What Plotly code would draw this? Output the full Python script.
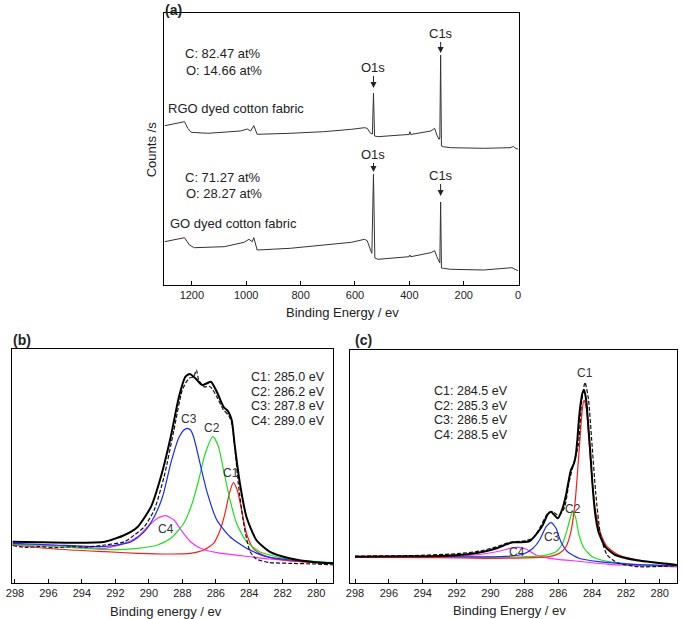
import plotly.graph_objects as go

W, H = 685, 619

# ---------------- panel (a): survey spectra ----------------
a_ticks = [0, 200, 400, 600, 800, 1000, 1200]
a_rgo_x = [1300, 1240, 1227, 1215, 1203, 1142, 1021, 996, 984, 972, 960, 838, 716, 613, 565, 555, 543, 536, 532, 528,
           516, 431, 401, 398, 395, 321, 307, 299, 291, 288, 285, 282, 275, 248, 127, 30, 17, 8, 0]
a_rgo_y = [159.3, 162.7, 163.3, 156.7, 152.7, 151.7, 154.0, 156.0, 154.0, 159.3, 150.7, 151.7, 153.3, 155.7, 157.3, 156.7, 151.7, 151.0, 191.7, 149.0,
           148.3, 150.0, 150.5, 153.3, 150.5, 154.0, 156.7, 150.0, 145.7, 147.0, 230.0, 139.0, 138.3, 137.3, 136.7, 137.3, 138.5, 136.5, 136.0]
a_go_x = [1300, 1240, 1227, 1209, 1191, 1081, 1008, 990, 978, 972, 960, 838, 716, 613, 565, 555, 543, 538, 532, 527,
          516, 431, 401, 398, 395, 321, 307, 299, 291, 288, 285, 282, 275, 248, 127, 30, 23, 11, 0]
a_go_y = [43.3, 46.7, 47.3, 40.0, 37.3, 38.3, 42.7, 45.7, 43.3, 47.3, 35.0, 36.7, 40.0, 42.7, 45.7, 44.3, 35.0, 31.7, 111.0, 27.0,
          25.7, 27.7, 28.3, 30.0, 28.3, 32.3, 34.3, 28.3, 23.3, 22.0, 83.0, 17.0, 16.7, 15.7, 15.0, 16.5, 17.3, 15.7, 14.3]

# ---------------- panel (b): GO C1s ----------------
be_ticks = [298, 296, 294, 292, 290, 288, 286, 284, 282, 280]
b_env_x = [298.14, 296.56, 294.60, 292.63, 291.45, 290.66, 289.87, 289.28, 288.69, 288.20, 287.81, 287.55, 287.22, 286.82,
           286.53, 286.29, 285.94, 285.54, 285.25, 285.05, 284.86, 284.56, 284.17, 283.58, 282.79, 281.61, 280.04, 278.95]
b_env_y = [41.3, 40.7, 40.2, 41.3, 48.0, 56.3, 76.3, 106.3, 146.3, 186.3, 206.3, 209.0, 204.7, 198.0,
           199.7, 201.3, 191.3, 176.3, 171.3, 163.0, 136.3, 99.7, 66.3, 43.0, 31.3, 24.7, 20.7, 19.7]
b_raw_x = [298.14, 297.36, 296.56, 295.60, 294.60, 293.60, 292.63, 291.45, 290.86, 290.27, 289.68, 289.09, 288.50, 288.00,
           287.61, 287.32, 287.16, 287.02, 286.72, 286.33, 285.94, 285.54, 285.25, 285.05, 284.86, 284.66, 284.36, 284.17,
           283.97, 283.58, 282.79, 281.61, 280.04, 278.95]
b_raw_y = [37.5, 35.5, 36.5, 35.3, 36.3, 36.0, 38.0, 41.3, 48.0, 56.3, 73.0, 106.3, 153.0, 193.0,
           204.7, 206.3, 213.0, 203.0, 196.3, 196.3, 186.3, 173.0, 168.0, 160.0, 135.0, 100.0, 62.0, 45.0,
           32.0, 24.0, 20.5, 19.7, 19.0, 18.0]
b_c1_x = [298.14, 295.60, 292.63, 290.66, 288.69, 287.51, 286.72, 286.13, 285.74, 285.45, 285.19, 284.95, 284.72, 284.46,
          284.17, 283.77, 283.18, 282.00, 278.95]
b_c1_y = [38.0, 34.0, 31.3, 29.7, 29.0, 29.7, 33.0, 39.7, 53.0, 69.7, 89.7, 100.3, 93.0, 73.0,
          49.7, 34.7, 28.0, 23.0, 19.0]
b_c2_x = [298.14, 295.60, 292.63, 290.66, 289.48, 288.69, 287.91, 287.41, 287.02, 286.63, 286.17, 285.84, 285.54, 285.15,
          284.76, 284.17, 283.38, 282.20, 280.82, 278.95]
b_c2_y = [38.0, 36.5, 33.5, 34.7, 38.0, 44.7, 59.7, 79.7, 103.0, 129.7, 146.3, 136.3, 113.0, 83.0,
          59.7, 41.3, 31.3, 25.7, 22.3, 20.3]
b_c3_x = [298.14, 295.60, 292.63, 291.05, 290.27, 289.68, 289.18, 288.69, 288.20, 287.91, 287.71, 287.51, 287.32, 286.92,
          286.53, 285.94, 285.15, 284.17, 282.99, 281.61, 278.95]
b_c3_y = [39.7, 38.0, 36.5, 41.3, 51.3, 66.3, 86.3, 119.7, 145.7, 153.0, 154.7, 153.0, 145.7, 118.0,
          91.3, 63.0, 46.3, 34.7, 26.3, 23.0, 19.7]
b_c4_x = [298.14, 295.60, 292.63, 291.45, 290.66, 290.07, 289.48, 288.99, 288.50, 288.00, 287.51, 286.92, 285.94, 284.36,
          282.79, 280.82, 278.95]
b_c4_y = [38.7, 37.5, 34.7, 39.7, 46.3, 56.3, 64.7, 67.3, 63.0, 51.3, 41.3, 34.7, 30.3, 27.0,
          24.0, 21.3, 19.7]
b_lab_txt = ["C1", "C2", "C3", "C4"]
b_lab_x = [285.07, 286.25, 287.61, 288.97]
b_lab_y = [110, 155, 164, 54]
b_info = ["C1: 285.0 eV", "C2: 286.2 eV", "C3: 287.8 eV", "C4: 289.0 eV"]

# ---------------- panel (c): RGO C1s ----------------
c_env_x = [298.0, 294.88, 292.94, 291.38, 290.41, 289.63, 289.05, 288.66, 288.17, 287.68, 287.30, 286.91, 286.62, 286.42,
           286.23, 286.03, 285.74, 285.54, 285.25, 285.06, 284.96, 284.86, 284.77, 284.67, 284.57, 284.47, 284.34, 284.28,
           284.18, 284.08, 283.99, 283.89, 283.79, 283.60, 283.21, 282.63, 281.46, 279.90, 278.93]
c_env_y = [26.3, 26.8, 27.0, 28.7, 31.3, 34.7, 38.7, 40.7, 40.7, 42.0, 48.7, 58.0, 68.7, 71.3,
           68.0, 64.7, 74.7, 88.0, 113.0, 120.0, 128.0, 145.0, 165.0, 180.0, 190.0, 193.0, 182.0, 170.0,
           148.0, 125.0, 102.0, 81.0, 66.0, 50.0, 36.0, 28.0, 23.0, 19.7, 18.0]
c_raw_x = [298.0, 294.88, 291.97, 290.60, 289.63, 288.85, 288.07, 287.49, 287.10, 286.61, 286.32, 285.97, 285.64, 285.35,
           285.06, 284.81, 284.61, 284.42, 284.22, 284.03, 283.79, 283.50, 283.11, 282.43, 281.26, 279.03]
c_raw_y = [27.0, 27.3, 29.3, 32.0, 36.3, 40.7, 42.0, 44.7, 54.7, 69.7, 71.3, 67.3, 74.7, 101.3,
           121.3, 138.0, 181.3, 200.7, 184.7, 144.7, 91.3, 48.0, 28.0, 19.7, 16.3, 17.3]
c_c1_x = [298.0, 292.94, 290.41, 287.49, 286.52, 285.93, 285.54, 285.25, 285.00, 284.77, 284.57, 284.47, 284.34, 284.18,
          283.99, 283.79, 283.50, 283.11, 282.43, 281.26, 279.90, 278.93]
c_c1_y = [25.7, 25.3, 24.7, 25.3, 26.3, 29.7, 36.3, 51.3, 81.3, 131.3, 174.7, 183.0, 174.7, 141.3,
          101.3, 71.3, 49.7, 36.3, 28.0, 23.0, 19.7, 18.0]
c_c2_x = [298.0, 292.35, 288.46, 286.91, 286.13, 285.74, 285.45, 285.25, 285.12, 284.96, 284.77, 284.47, 283.99, 283.01,
          281.46, 278.93]
c_c2_y = [26.0, 26.0, 26.0, 27.3, 31.3, 39.7, 54.7, 67.3, 71.3, 64.7, 48.0, 34.7, 26.3, 21.3,
          18.7, 17.3]
c_c3_x = [298.0, 292.35, 289.44, 288.07, 287.49, 287.10, 286.71, 286.42, 286.13, 285.84, 285.45, 284.77, 283.60, 281.65, 278.93]
c_c3_y = [26.3, 26.3, 26.3, 28.7, 34.7, 43.0, 56.3, 60.3, 54.7, 41.3, 31.3, 24.7, 21.3, 18.7, 17.3]
c_c4_x = [298.0, 292.35, 290.41, 289.44, 288.85, 288.37, 287.88, 287.30, 286.52, 284.96, 283.01, 280.68, 278.93]
c_c4_y = [26.7, 26.7, 29.0, 32.0, 34.7, 35.7, 33.7, 28.0, 24.7, 22.0, 18.7, 17.0, 16.0]
c_lab_txt = ["C1", "C2", "C3", "C4"]
c_lab_x = [284.42, 285.12, 286.34, 288.45]
c_lab_y = [210, 74, 46, 31]
c_info = ["C1: 284.5 eV", "C2: 285.3 eV", "C3: 286.5 eV", "C4: 288.5 eV"]

FONT = "Liberation Sans, Arial, sans-serif"
TXT = "#222222"
RED, GREEN, BLUE, MAG = "#ff1a1a", "#1ee01e", "#1a2aff", "#ff2cff"

fig = go.Figure()


def add(x, y, xa, ya, color, width, dash="solid", shape="spline"):
    fig.add_trace(go.Scatter(x=x, y=y, xaxis=xa, yaxis=ya, mode="lines",
                             line=dict(color=color, width=width, dash=dash, shape=shape, smoothing=0.6),
                             hoverinfo="skip", showlegend=False))


add(a_rgo_x, a_rgo_y, "x", "y", "#333333", 1, shape="linear")
add(a_go_x, a_go_y, "x", "y", "#333333", 1, shape="linear")

for (xx, yy, col) in [(b_c4_x, b_c4_y, MAG), (b_c1_x, b_c1_y, RED), (b_c2_x, b_c2_y, GREEN), (b_c3_x, b_c3_y, BLUE)]:
    add(xx, yy, "x2", "y2", col, 1.2)
add(b_raw_x, b_raw_y, "x2", "y2", "#111111", 1.2, dash="4px,2px")
add(b_env_x, b_env_y, "x2", "y2", "#000000", 2)

for (xx, yy, col) in [(c_c4_x, c_c4_y, MAG), (c_c2_x, c_c2_y, GREEN), (c_c3_x, c_c3_y, BLUE), (c_c1_x, c_c1_y, RED)]:
    add(xx, yy, "x3", "y3", col, 1.2)
add(c_raw_x, c_raw_y, "x3", "y3", "#111111", 1.2, dash="4px,2px")
add(c_env_x, c_env_y, "x3", "y3", "#000000", 2)


def px(v):
    return v / W


def py(v):
    return 1 - v / H


common_x = dict(ticks="inside", ticklen=4, tickcolor="#000", showline=True, mirror=True, linecolor="#000",
                linewidth=1, showgrid=False, zeroline=False, tickfont=dict(size=11, color=TXT, family=FONT))
common_y = dict(showticklabels=False, ticks="", showline=True, mirror=True, linecolor="#000", linewidth=1,
                showgrid=False, zeroline=False)

fig.update_layout(
    width=W, height=H, margin=dict(l=0, r=0, t=0, b=0),
    paper_bgcolor="white", plot_bgcolor="white",
    font=dict(family=FONT, color=TXT),
    xaxis=dict(domain=[px(160), px(519)], anchor="y", range=[1302, -3], tickvals=a_ticks, **common_x),
    yaxis=dict(domain=[py(285), py(13)], anchor="x", range=[0, 272], **common_y),
    xaxis2=dict(domain=[px(6), px(331)], anchor="y2", range=[298.18, 278.99], tickvals=be_ticks, **common_x),
    yaxis2=dict(domain=[py(583), py(349)], anchor="x2", range=[0, 234], **common_y),
    xaxis3=dict(domain=[px(348), px(679)], anchor="y3", range=[298.3, 278.98], tickvals=be_ticks, **common_x),
    yaxis3=dict(domain=[py(583), py(350)], anchor="x3", range=[0, 233], **common_y),
)

ann = []


def ptext(t, x, y, size=13, xanchor="left", bold=False, angle=0):
    ann.append(dict(text=("<b>%s</b>" % t) if bold else t, x=px(x), y=py(y), xref="paper", yref="paper",
                    xanchor=xanchor, yanchor="middle", showarrow=False, textangle=angle,
                    font=dict(size=size, color=TXT, family=FONT)))


ptext("(a)", 159, 10, size=14, bold=True)
ptext("(b)", 5, 340, size=14, bold=True)
ptext("(c)", 351, 340, size=14, bold=True)
ptext("C: 82.47 at%", 179, 53)
ptext("O: 14.66 at%", 180, 71)
ptext("RGO dyed cotton fabric", 162, 109)
ptext("C: 71.27 at%", 179, 177)
ptext("O: 28.27 at%", 180, 193)
ptext("GO dyed cotton fabric", 164, 223)
ptext("Binding Energy / ev", 340, 312, xanchor="center")
ptext("Binding energy / ev", 162, 611, xanchor="center")
ptext("Binding Energy / ev", 509, 610, xanchor="center")
ptext("Counts /s", 147, 150, xanchor="center", angle=-90)
for i, t in enumerate(b_info):
    ptext(t, 246, 377 + 14.7 * i, size=12.5)
for i, t in enumerate(c_info):
    ptext(t, 431, 391 + 14.7 * i, size=12.5)

for t, x, y in zip(b_lab_txt, b_lab_x, b_lab_y):
    ann.append(dict(text=t, x=x, y=y, xref="x2", yref="y2", showarrow=False,
                    font=dict(size=12, color="#333", family=FONT)))
for t, x, y in zip(c_lab_txt, c_lab_x, c_lab_y):
    ann.append(dict(text=t, x=x, y=y, xref="x3", yref="y3", showarrow=False,
                    font=dict(size=12, color="#333", family=FONT)))

for t, x, y, ay in [("O1s", 532, 197, -21), ("C1s", 285, 232, -20), ("O1s", 532, 113, -18), ("C1s", 285, 89, -21)]:
    ann.append(dict(text=t, x=x, y=y, xref="x", yref="y", showarrow=True, ax=0, ay=ay,
                    arrowhead=2, arrowsize=1.2, arrowwidth=1, arrowcolor="#222", standoff=0,
                    font=dict(size=13, color=TXT, family=FONT)))

fig.update_layout(annotations=ann)
fig.write_html("out.html", config={"displayModeBar": False},
               post_script="document.body.style.margin='0';document.body.style.overflow='hidden';")
